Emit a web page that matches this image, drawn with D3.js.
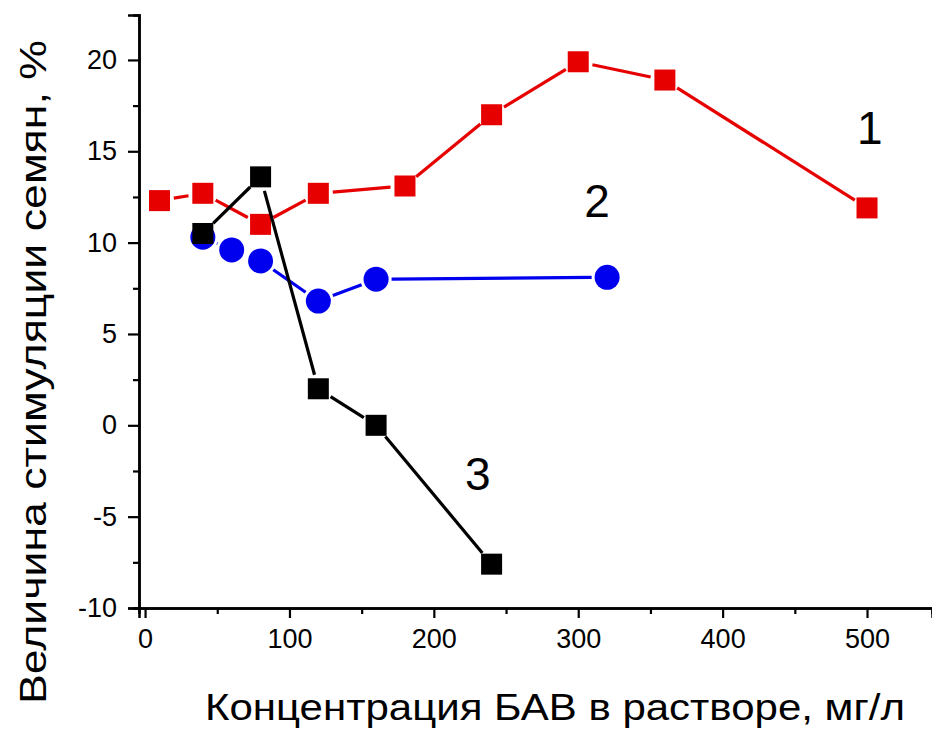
<!DOCTYPE html>
<html>
<head>
<meta charset="utf-8">
<script src="https://cdn.jsdelivr.net/npm/d3@7"></script>
<style>
  html, body { margin: 0; padding: 0; background: #fff; }
  svg { display: block; }
  text { font-family: "Liberation Sans", Arial, sans-serif; fill: #000; }
</style>
</head>
<body>
<svg id="chart" width="932" height="729"></svg>
<script>
// Concentration (mg/l) and seed stimulation (%) for the three preparations
const conc1 = [10, 40, 80, 120, 180, 240, 300, 360, 500];
const stim1 = [12.3, 12.7, 11.0, 12.7, 13.1, 17.0, 19.9, 18.9, 11.9];
const conc2 = [40, 60, 80, 120, 160, 320];
const stim2 = [10.3, 9.6, 9.0, 6.8, 8.0, 8.1];
const conc3 = [40, 80, 120, 160, 240];
const stim3 = [10.5, 13.6, 2.0, 0, -7.6];

const xMajorTicks = [0, 100, 200, 300, 400, 500];
const xMinorTicks = [50, 150, 250, 350, 450];
const yMajorTicks = [-10, -5, 0, 5, 10, 15, 20];
const yMinorTicks = [-7.5, -2.5, 2.5, 7.5, 12.5, 17.5];

const seriesLabels = ["1", "2", "3"];
const xTitle = "Концентрация БАВ в растворе, мг/л";
const yTitle = "Величина стимуляции семян, %";

const svg = d3.select("#chart");

const x = d3.scaleLinear().domain([-4.2, 545]).range([139, 932]);
const y = d3.scaleLinear().domain([-10, 22.46]).range([608, 15]);

// Plain hyphen for negative tick labels
const plain = d => String(d);

// Axes
const xAxisMajor = d3.axisBottom(x).tickValues(xMajorTicks).tickSize(10).tickPadding(11).tickFormat(plain);
const xAxisMinor = d3.axisBottom(x).tickValues(xMinorTicks).tickSize(6).tickFormat("");
const yAxisMajor = d3.axisLeft(y).tickValues(yMajorTicks).tickSize(11).tickPadding(11).tickFormat(plain);
const yAxisMinor = d3.axisLeft(y).tickValues(yMinorTicks).tickSize(6).tickFormat("");

function styleAxis(g) {
  g.selectAll("path.domain").attr("stroke", "#000").attr("stroke-width", 2.5);
  g.selectAll(".tick line").attr("stroke", "#000").attr("stroke-width", 2.2);
  g.selectAll(".tick text").style("font-size", "27px").attr("fill", "#000");
}

svg.append("g").attr("transform", `translate(0,${y(-10)})`).call(xAxisMinor).call(styleAxis);
svg.append("g").attr("transform", `translate(0,${y(-10)})`).call(xAxisMajor).call(styleAxis);
svg.append("g").attr("transform", `translate(${x(-4.2)},0)`).call(yAxisMinor).call(styleAxis);
svg.append("g").attr("transform", `translate(${x(-4.2)},0)`).call(yAxisMajor).call(styleAxis);

// Axis titles
svg.append("text")
  .attr("x", 555).attr("y", 720)
  .attr("text-anchor", "middle")
  .style("font-size", "37px")
  .attr("textLength", 700).attr("lengthAdjust", "spacingAndGlyphs")
  .text(xTitle);

svg.append("text")
  .attr("transform", "translate(46,372) rotate(-90)")
  .attr("text-anchor", "middle")
  .style("font-size", "37px")
  .attr("textLength", 664).attr("lengthAdjust", "spacingAndGlyphs")
  .text(yTitle);

// Draws a series: line segments trimmed short of each marker, then markers
function drawSeries(xs, ys, color, shape, size, gap) {
  const pts = xs.map((v, i) => [x(v), y(ys[i])]);
  const g = svg.append("g");
  const trim = size / 2 + gap;
  for (let i = 0; i < pts.length - 1; i++) {
    const [x0, y0] = pts[i], [x1, y1] = pts[i + 1];
    const dx = x1 - x0, dy = y1 - y0, len = Math.hypot(dx, dy);
    if (len <= 2 * trim) continue;
    const ux = dx / len, uy = dy / len;
    g.append("line")
      .attr("x1", x0 + ux * trim).attr("y1", y0 + uy * trim)
      .attr("x2", x1 - ux * trim).attr("y2", y1 - uy * trim)
      .attr("stroke", color).attr("stroke-width", 3.2);
  }
  if (shape === "square") {
    g.selectAll("rect").data(pts).join("rect")
      .attr("x", d => d[0] - size / 2).attr("y", d => d[1] - size / 2)
      .attr("width", size).attr("height", size)
      .attr("fill", color);
  } else {
    g.selectAll("circle").data(pts).join("circle")
      .attr("cx", d => d[0]).attr("cy", d => d[1]).attr("r", size / 2)
      .attr("fill", color);
  }
}

drawSeries(conc1, stim1, "#e60000", "square", 21, 4);
drawSeries(conc2, stim2, "#0000ee", "circle", 25, 3);
drawSeries(conc3, stim3, "#000000", "square", 21, 4);

// Curve numbers
const labelPos = [[502, 15.4], [313, 11.4], [230.5, -3.55]];
labelPos.forEach((p, i) => {
  svg.append("text")
    .attr("x", x(p[0])).attr("y", y(p[1]))
    .attr("text-anchor", "middle")
    .style("font-size", "46px")
    .text(seriesLabels[i]);
});
</script>
</body>
</html>
